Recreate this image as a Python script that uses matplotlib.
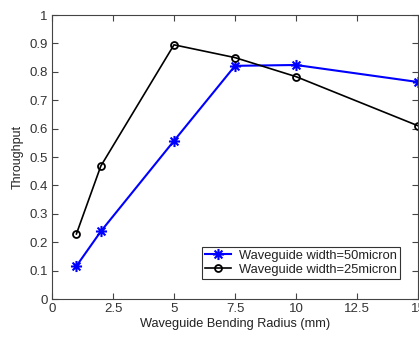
import matplotlib
matplotlib.use('Agg')
import matplotlib.pyplot as plt
from matplotlib.path import Path

radius = [1, 2, 5, 7.5, 10, 15]
tp_50 = [0.116, 0.238, 0.557, 0.821, 0.824, 0.764]
tp_25 = [0.229, 0.468, 0.895, 0.850, 0.783, 0.610]
xticks = [0, 2.5, 5, 7.5, 10, 12.5, 15]
yticks = [0, 0.1, 0.2, 0.3, 0.4, 0.5, 0.6, 0.7, 0.8, 0.9, 1]

plt.rcParams['font.family'] = ['Liberation Sans', 'DejaVu Sans']

# matlab-style '*' marker: plus and cross on top of each other
d = 0.707
star = Path([(-1, 0), (1, 0), (0, -1), (0, 1), (-d, -d), (d, d), (-d, d), (d, -d)],
            [Path.MOVETO, Path.LINETO] * 4)

fig = plt.figure(figsize=(4.19, 3.37), dpi=100)
ax = fig.add_axes([52/419, 1-299/337, 366/419, 284/337])

ax.plot(radius, tp_50, color='#0000ff', linestyle='-', linewidth=1.5, marker=star,
        markersize=8, markeredgewidth=1.5, markerfacecolor='none',
        label='Waveguide width=50micron', clip_on=False)
ax.plot(radius, tp_25, color='black', linestyle='-', linewidth=1.2, marker='o',
        markersize=5, markerfacecolor='none', markeredgewidth=1.3,
        label='Waveguide width=25micron', clip_on=False)

ax.set_xlim(0, 15)
ax.set_ylim(0, 1)
ax.set_xticks(xticks)
ax.set_xticklabels(['0', '2.5', '5', '7.5', '10', '12.5', '15'])
ax.set_yticks(yticks)
ax.set_yticklabels(['0', '0.1', '0.2', '0.3', '0.4', '0.5', '0.6', '0.7', '0.8', '0.9', '1'])
ax.tick_params(direction='in', top=True, right=True, length=4, labelsize=9.5,
               labelcolor='#333333', color='#444444', pad=3)
for s in ax.spines.values():
    s.set_color('#444444')

ax.set_xlabel('Waveguide Bending Radius (mm)', fontsize=9.2, labelpad=2, color='#222222')
ax.set_ylabel('Throughput', fontsize=9, labelpad=4, color='#222222')

leg = ax.legend(loc='lower right', bbox_to_anchor=(0.951, 0.07), borderaxespad=0,
                fontsize=9.3, frameon=True, fancybox=False, edgecolor='black',
                handlelength=2.0, borderpad=0.25, labelspacing=0.15, handletextpad=0.6)
leg.get_frame().set_linewidth(0.8)
for t in leg.get_texts():
    t.set_color('#222222')

fig.savefig('out.png', dpi=100)
